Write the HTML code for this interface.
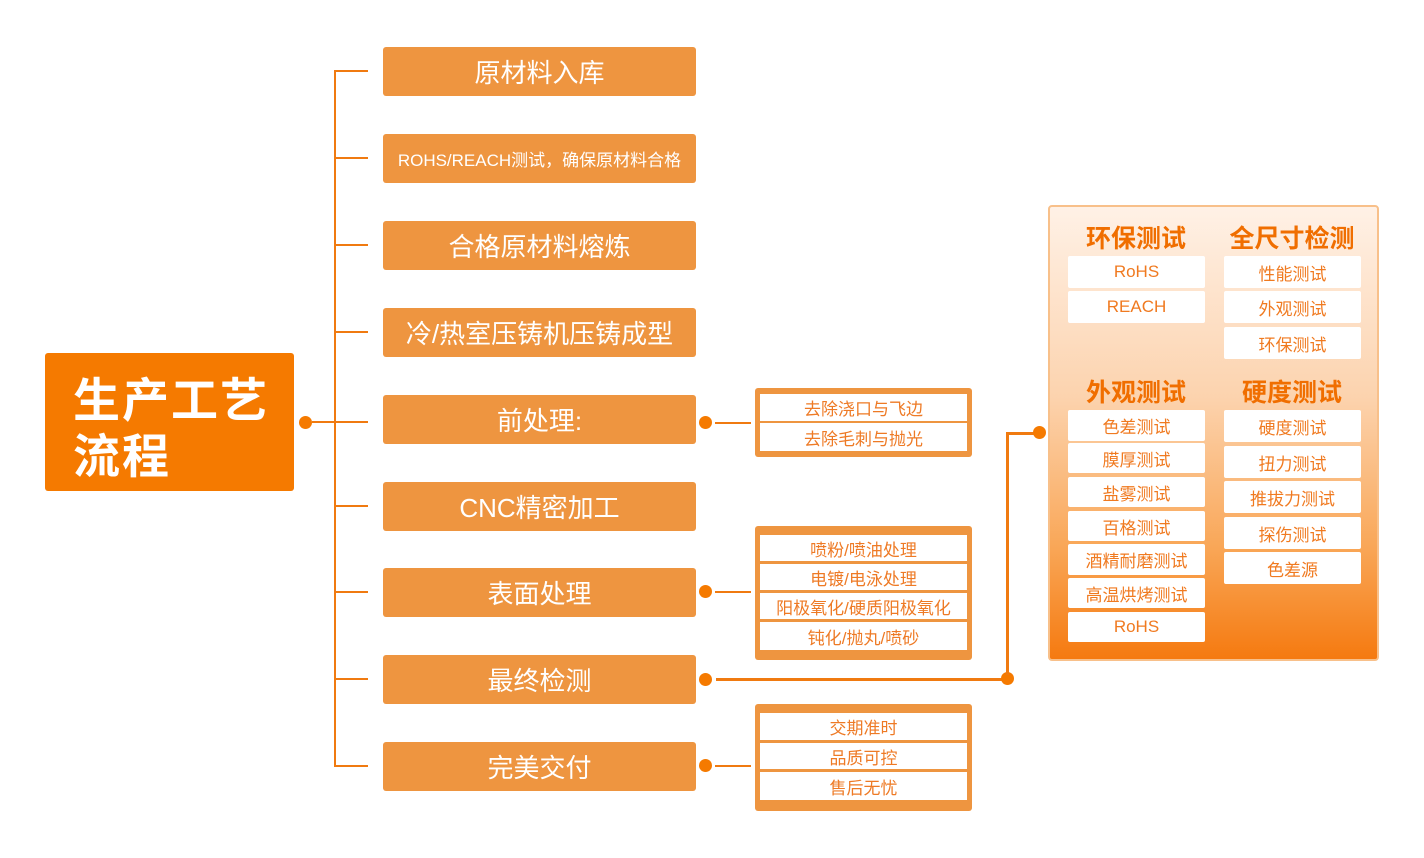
<!DOCTYPE html>
<html><head><meta charset="utf-8"><style>
*{margin:0;padding:0;box-sizing:border-box}
body{width:1424px;height:858px;background:#fff;position:relative;overflow:hidden;font-family:"Liberation Sans","Noto Sans CJK SC",sans-serif}
.a{position:absolute}
.lb{position:absolute;left:383px;width:313px;height:49px;background:#EE9540;border-radius:3px;color:#fff;font-size:26px;display:flex;align-items:center;justify-content:center}
.ln{position:absolute;background:#F07A10}
.dot{position:absolute;width:13px;height:13px;border-radius:50%;background:#F57A00}
.grp{position:absolute;left:755px;width:217px;background:#EE9540;border-radius:3px}
.row{position:absolute;left:5px;width:207px;background:#fff;color:#EE7A25;font-size:17px;display:flex;align-items:center;justify-content:center}
.it{position:absolute;width:137px;height:32px;background:#fff;border-radius:2px;color:#F07A20;font-size:17px;display:flex;align-items:center;justify-content:center}
.h{position:absolute;width:160px;text-align:center;color:#F06E00;font-size:25px;font-weight:bold}
</style></head><body>
<div class="a" style="left:45px;top:353px;width:249px;height:138px;background:#F57A00;border-radius:3px;color:#fff;font-size:47px;font-weight:bold;line-height:56px;padding:20px 0 0 28px;letter-spacing:2px">生产工艺<br>流程</div>
<div class="dot" style="left:299px;top:416px"></div>
<div class="ln" style="left:312px;top:421px;width:56px;height:2px"></div>
<div class="ln" style="left:334px;top:70px;width:2px;height:697px"></div>
<div class="ln" style="left:334px;top:70px;width:34px;height:2px"></div>
<div class="ln" style="left:334px;top:157px;width:34px;height:2px"></div>
<div class="ln" style="left:334px;top:244px;width:34px;height:2px"></div>
<div class="ln" style="left:334px;top:331px;width:34px;height:2px"></div>
<div class="ln" style="left:334px;top:505px;width:34px;height:2px"></div>
<div class="ln" style="left:334px;top:591px;width:34px;height:2px"></div>
<div class="ln" style="left:334px;top:678px;width:34px;height:2px"></div>
<div class="ln" style="left:334px;top:765px;width:34px;height:2px"></div>

<div class="lb" style="top:47px">原材料入库</div>
<div class="lb" style="top:134px;font-size:17px">ROHS/REACH测试，确保原材料合格</div>
<div class="lb" style="top:221px">合格原材料熔炼</div>
<div class="lb" style="top:308px">冷/热室压铸机压铸成型</div>
<div class="lb" style="top:395px">前处理:</div>
<div class="lb" style="top:482px">CNC精密加工</div>
<div class="lb" style="top:568px">表面处理</div>
<div class="lb" style="top:655px">最终检测</div>
<div class="lb" style="top:742px">完美交付</div>

<div class="dot" style="left:699px;top:416px"></div>
<div class="ln" style="left:715px;top:422px;width:36px;height:2px"></div>
<div class="dot" style="left:699px;top:585px"></div>
<div class="ln" style="left:715px;top:591px;width:36px;height:2px"></div>
<div class="dot" style="left:699px;top:759px"></div>
<div class="ln" style="left:715px;top:765px;width:36px;height:2px"></div>

<div class="grp" style="top:388px;height:69px">
<div class="row" style="top:6px;height:27px">去除浇口与飞边</div>
<div class="row" style="top:35px;height:28px">去除毛刺与抛光</div></div>
<div class="grp" style="top:526px;height:134px">
<div class="row" style="top:9px;height:26px">喷粉/喷油处理</div>
<div class="row" style="top:38px;height:26px">电镀/电泳处理</div>
<div class="row" style="top:67px;height:26px">阳极氧化/硬质阳极氧化</div>
<div class="row" style="top:96px;height:28px">钝化/抛丸/喷砂</div></div>
<div class="grp" style="top:704px;height:107px">
<div class="row" style="top:9px;height:27px">交期准时</div>
<div class="row" style="top:39px;height:26px">品质可控</div>
<div class="row" style="top:68px;height:28px">售后无忧</div></div>

<div class="dot" style="left:699px;top:673px"></div>
<div class="ln" style="left:716px;top:678px;width:286px;height:3px"></div>
<div class="dot" style="left:1001px;top:672px"></div>
<div class="ln" style="left:1006px;top:433px;width:3px;height:242px"></div>
<div class="ln" style="left:1006px;top:432px;width:28px;height:3px"></div>
<div class="dot" style="left:1033px;top:426px"></div>

<div class="a" style="left:1048px;top:205px;width:331px;height:456px;border:2px solid #F8C08A;border-radius:4px;background:linear-gradient(#FFF1E6 0%,#FCD3AE 42%,#F9A758 75%,#F57A10 100%)"></div>
<div class="h" style="left:1056px;top:219px">环保测试</div>
<div class="h" style="left:1212px;top:219px">全尺寸检测</div>
<div class="h" style="left:1056px;top:373px">外观测试</div>
<div class="h" style="left:1212px;top:373px">硬度测试</div>
<div class="it" style="left:1068px;top:256px">RoHS</div>
<div class="it" style="left:1068px;top:291px">REACH</div>
<div class="it" style="left:1224px;top:256px">性能测试</div>
<div class="it" style="left:1224px;top:291px">外观测试</div>
<div class="it" style="left:1224px;top:327px">环保测试</div>
<div class="it" style="left:1068px;top:410px;height:31px">色差测试</div>
<div class="it" style="left:1068px;top:443px;height:30px">膜厚测试</div>
<div class="it" style="left:1068px;top:477px;height:30px">盐雾测试</div>
<div class="it" style="left:1068px;top:511px;height:30px">百格测试</div>
<div class="it" style="left:1068px;top:544px;height:31px">酒精耐磨测试</div>
<div class="it" style="left:1068px;top:578px;height:30px">高温烘烤测试</div>
<div class="it" style="left:1068px;top:612px;height:30px">RoHS</div>
<div class="it" style="left:1224px;top:410px">硬度测试</div>
<div class="it" style="left:1224px;top:446px">扭力测试</div>
<div class="it" style="left:1224px;top:481px">推拔力测试</div>
<div class="it" style="left:1224px;top:517px">探伤测试</div>
<div class="it" style="left:1224px;top:552px">色差源</div>
</body></html>
